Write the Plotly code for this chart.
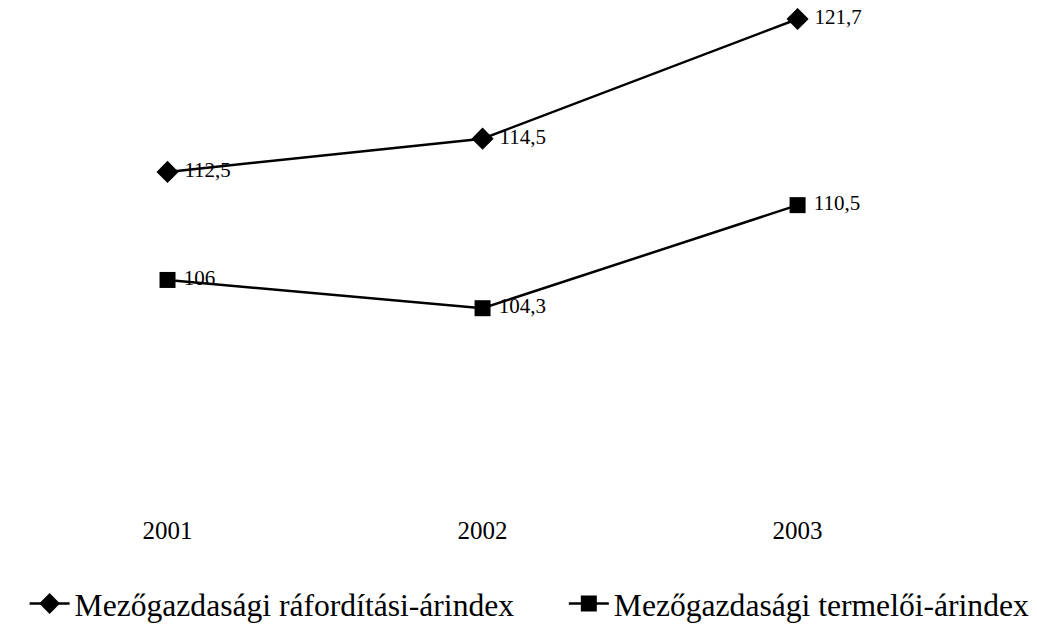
import plotly.graph_objects as go

years = ["2001", "2002", "2003"]
raforditasi = [112.5, 114.5, 121.7]
termeloi = [106, 104.3, 110.5]
raforditasi_labels = ["112,5", "114,5", "121,7"]
termeloi_labels = ["106", "104,3", "110,5"]

label_font = dict(family="Liberation Serif", size=21, color="black")
legend_font = dict(family="Liberation Serif", size=31.6, color="black")

fig = go.Figure()

fig.add_trace(go.Scatter(
    x=years, y=raforditasi, mode="lines+markers+text",
    name="Mezőgazdasági ráfordítási-árindex",
    line=dict(color="black", width=2.5),
    marker=dict(symbol="diamond", size=17, color="black"),
    text=["\u00a0" + t for t in raforditasi_labels], textposition="middle right",
    textfont=label_font, cliponaxis=False,
    legend="legend",
))

fig.add_trace(go.Scatter(
    x=years, y=termeloi, mode="lines+markers+text",
    name="Mezőgazdasági termelői-árindex",
    line=dict(color="black", width=2.5),
    marker=dict(symbol="square", size=16, color="black"),
    text=["\u00a0" + t for t in termeloi_labels], textposition="middle right",
    textfont=label_font, cliponaxis=False,
    legend="legend2",
))

fig.update_xaxes(
    type="category", range=[-0.5, 2.779],
    showgrid=False, showline=False, zeroline=False,
    ticks="outside", ticklen=1, tickcolor="rgba(0,0,0,0)", automargin=False,
    tickfont=dict(family="Liberation Serif", size=25, color="black"),
)
fig.update_yaxes(
    range=[92.34, 121.88], visible=False, showgrid=False,
)

fig.update_layout(
    width=1037, height=628,
    margin=dict(l=2, r=2, t=8, b=129, autoexpand=False),
    plot_bgcolor="white", paper_bgcolor="white",
    showlegend=True,
    legend=dict(
        orientation="h",
        xref="container", x=0.016, xanchor="left",
        yref="container", y=0.051, yanchor="middle",
        font=legend_font, itemwidth=40,
    ),
    legend2=dict(
        orientation="h",
        xref="container", x=0.536, xanchor="left",
        yref="container", y=0.051, yanchor="middle",
        font=legend_font, itemwidth=40,
    ),
)

fig.write_html("out.html")
